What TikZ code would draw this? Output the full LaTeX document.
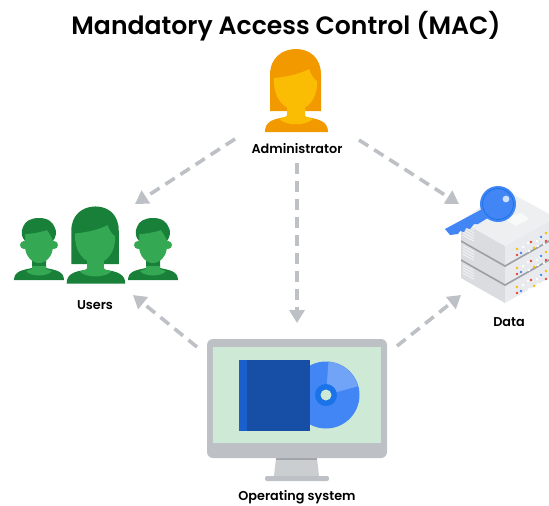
\documentclass[tikz,border=0pt]{standalone}
\usepackage{fontspec}
\setmainfont{Poppins}[UprightFont=* SemiBold]
\usetikzlibrary{arrows.meta}
\definecolor{arrowgray}{HTML}{BDC1C6}
\definecolor{adminhair}{HTML}{F29900}
\definecolor{adminskin}{HTML}{FBBC04}
\definecolor{userdark}{HTML}{188038}
\definecolor{userlight}{HTML}{34A853}
\definecolor{keyblue}{HTML}{4285F4}
\definecolor{keydark}{HTML}{1A73E8}
\definecolor{bookdark}{HTML}{174EA6}
\definecolor{bookspine}{HTML}{1A5FCC}
\definecolor{screengreen}{HTML}{CEEAD6}
\definecolor{monitor}{HTML}{BDC1C6}
\definecolor{srvlight}{HTML}{F1F3F4}
\definecolor{srvmid}{HTML}{E8EAED}
\definecolor{srvdark}{HTML}{DADCE0}
\definecolor{srvband}{HTML}{9AA0A6}
\definecolor{dotred}{HTML}{EA4335}
\tikzset{
  flow/.style={draw=arrowgray,line width=3.6pt,dash pattern=on 11pt off 7pt,-{Triangle[length=13pt,width=15pt]}},
  lab/.style={font=\fontsize{12.8}{15}\selectfont,text=black,inner sep=0pt},
  icon/.style={inner sep=0pt,draw=none}
}
\newcommand{\drawwoman}[2]{%
  \fill[#1] (-26,27) -- (-26,-9) .. controls (-26,-26) and (-14,-35) .. (0,-35)
     .. controls (14,-35) and (25,-26) .. (25,-9) -- (25,27) -- cycle;
  \fill[#1] (-31,48) .. controls (-31,38) and (-24,35) .. (-10,33) -- (10,33) .. controls (24,35) and (32,38) .. (32,48) -- cycle;
  \fill[#2] (-9,20) -- (9,20) -- (9,31) .. controls (9,33) and (14,34) .. (17,35)
     .. controls (10,42) and (-10,42) .. (-17,35) .. controls (-14,34) and (-9,33) .. (-9,31) -- cycle;
  \fill[#2] (-22,-6) .. controls (-10,-7) and (4,-10) .. (13,-15)
     .. controls (15,-9) and (18,-5) .. (21,-3)
     .. controls (22,14) and (12,26) .. (0,26)
     .. controls (-12,26) and (-23,14) .. (-22,-6) -- cycle;
}
\newcommand{\drawman}{%
  \fill[userdark] (-25,47) .. controls (-25,38) and (-16,37) .. (-7,35) -- (-7,25) -- (7,25) -- (7,35) .. controls (16,37) and (25,38) .. (25,47) -- cycle;
  \fill[userlight] (-7,33) -- (7,33) -- (7,36) .. controls (9,37) and (11,37) .. (13,38) .. controls (9,44) and (-9,44) .. (-13,38) .. controls (-11,37) and (-9,37) .. (-7,36) -- cycle;
  \fill[userlight] (-15,12) circle[radius=4];
  \fill[userlight] (15,12) circle[radius=4];
  \fill[userlight] (-14,-6) -- (14,-6) -- (14,13) .. controls (14,23) and (7,30) .. (0,30) .. controls (-7,30) and (-14,23) .. (-14,13) -- cycle;
  \fill[userdark] (-14,8) .. controls (-18,4) and (-18,-2) .. (-16,-6) .. controls (-14,-12) and (-8,-15) .. (0,-15)
     .. controls (9,-15) and (14,-11) .. (16,-5) .. controls (18,-1) and (17,4) .. (14,8)
     .. controls (13,4) and (10,0) .. (8,-3) .. controls (2,-1) and (-8,1) .. (-14,1) -- cycle;
}
\newcommand{\serverband}[1]{%
  \fill[srvband,shift={(0,#1)}] (461,242) -- (505,267) -- (549,242) -- (549,236) -- (505,261) -- (461,236) -- cycle;
}
\newcommand{\serverlayer}[1]{%
  \begin{scope}[shift={(0,#1)}]
  \fill[srvdark] (461,221) -- (505,246) -- (505,265) -- (461,240) -- cycle;
  \fill[srvmid] (505,246) -- (549,221) -- (549,240) -- (505,265) -- cycle;
  \foreach \i in {0,...,4}{
    \draw[srvlight,line width=.9pt] (463,224+\i*2.8) -- (474,230+\i*2.8);
  }
  \foreach \x/\y/\c in {517/249/adminskin,517/255/dotred,521/253/keyblue,523/247/white,528/243/white,529/251/white,531/242/dotred,534/248/adminskin,537/241/white,540/238/white,538/246/white,541/237/keyblue,546/233/adminskin,546/241/dotred,544/244/white}{
    \fill[\c] (\x,\y) circle[radius=1.3];
  }
  \end{scope}
}
\begin{document}
\begin{tikzpicture}[x=1pt,y=-1pt]
\useasboundingbox (0,0) rectangle (549,506);
\fill[white] (0,0) rectangle (549,506);
\node[inner sep=0pt,font=\fontsize{25.1}{30}\selectfont] (title) at (286,26) {Mandatory Access Control (MAC)};

% administrator
\begin{scope}[shift={(296,84)}]
\drawwoman{adminhair}{adminskin}
\end{scope}
\node[icon,minimum width=64pt,minimum height=84pt] (admin) at (297,91) {};
\node[lab] (adminlab) at (297,149) {Administrator};

% users
\begin{scope}[shift={(95.5,239)},scale=.93]
\drawwoman{userdark}{userlight}
\end{scope}
\begin{scope}[shift={(39,233)}]\drawman\end{scope}
\begin{scope}[shift={(153,233)}]\drawman\end{scope}
\node[icon,minimum width=164pt,minimum height=76pt] (users) at (96,245) {};
\node[lab] (userslab) at (95,305) {Users};

% data
\serverlayer{38}
\serverband{19}
\serverlayer{19}
\serverband{0}
\serverlayer{0}
\fill[srvlight!60!srvmid] (461,221) -- (505,190) -- (549,214) -- (549,221) -- (505,246) -- cycle;
\fill[white!50!srvlight] (503,218) -- (522,213) -- (529,219) -- (516,226) -- cycle;
\fill[keyblue] (445,229) -- (486,207) -- (491,216) -- (478,224) -- (474,224) -- (470,229) -- (466,228) -- (464,232) -- (460,231) -- (458,234) -- (450,235) -- cycle;
\fill[keyblue] (498,204) circle[radius=18];
\draw[keydark,line width=.8pt] (498,204) circle[radius=15.5];
\fill[white!75!keyblue] (506,199) circle[radius=3.4];
\node[icon,minimum width=104pt,minimum height=116pt] (data) at (497,245) {};
\node[lab] (datalab) at (509,322) {Data};

% operating system
\fill[monitor!80!white] (276,458) -- (317,458) -- (319,476) -- (274,476) -- cycle;
\fill[monitor!85!black] (276,458) rectangle (317,460);
\fill[monitor,rounded corners=2pt] (265,476) rectangle (329,481);
\fill[monitor,rounded corners=6pt] (207,339) rectangle (387,458);
\fill[screengreen] (213,347) rectangle (381,443);
\fill[keyblue] (326,395) circle[radius=33.5];
\fill[white!25!keyblue] (326,395) -- (328.5,361.6) arc[start angle=-85,end angle=-15,radius=33.5] -- cycle;
\fill[keydark] (326,395) circle[radius=11];
\fill[screengreen] (326,395) circle[radius=5.5];
\fill[bookdark] (239,360) rectangle (310,431);
\fill[bookspine] (239,360) rectangle (247,431);
\node[icon,minimum width=180pt,minimum height=142pt] (os) at (297,410) {};
\node[lab] (oslab) at (297,497) {Operating system};

% connectors
\coordinate (a1) at (235,139);
\coordinate (u1) at (135,204);
\coordinate (a2) at (297,163);
\coordinate (o2) at (297,323);
\coordinate (a3) at (359,140);
\coordinate (d3) at (459,204);
\coordinate (o4) at (197,347);
\coordinate (u4) at (133,295);
\coordinate (o5) at (397,346);
\coordinate (d5) at (461,295);
\draw[flow] (a1) -- (u1);
\draw[flow] (a2) -- (o2);
\draw[flow] (a3) -- (d3);
\draw[flow] (o4) -- (u4);
\draw[flow] (o5) -- (d5);
\end{tikzpicture}
\end{document}
